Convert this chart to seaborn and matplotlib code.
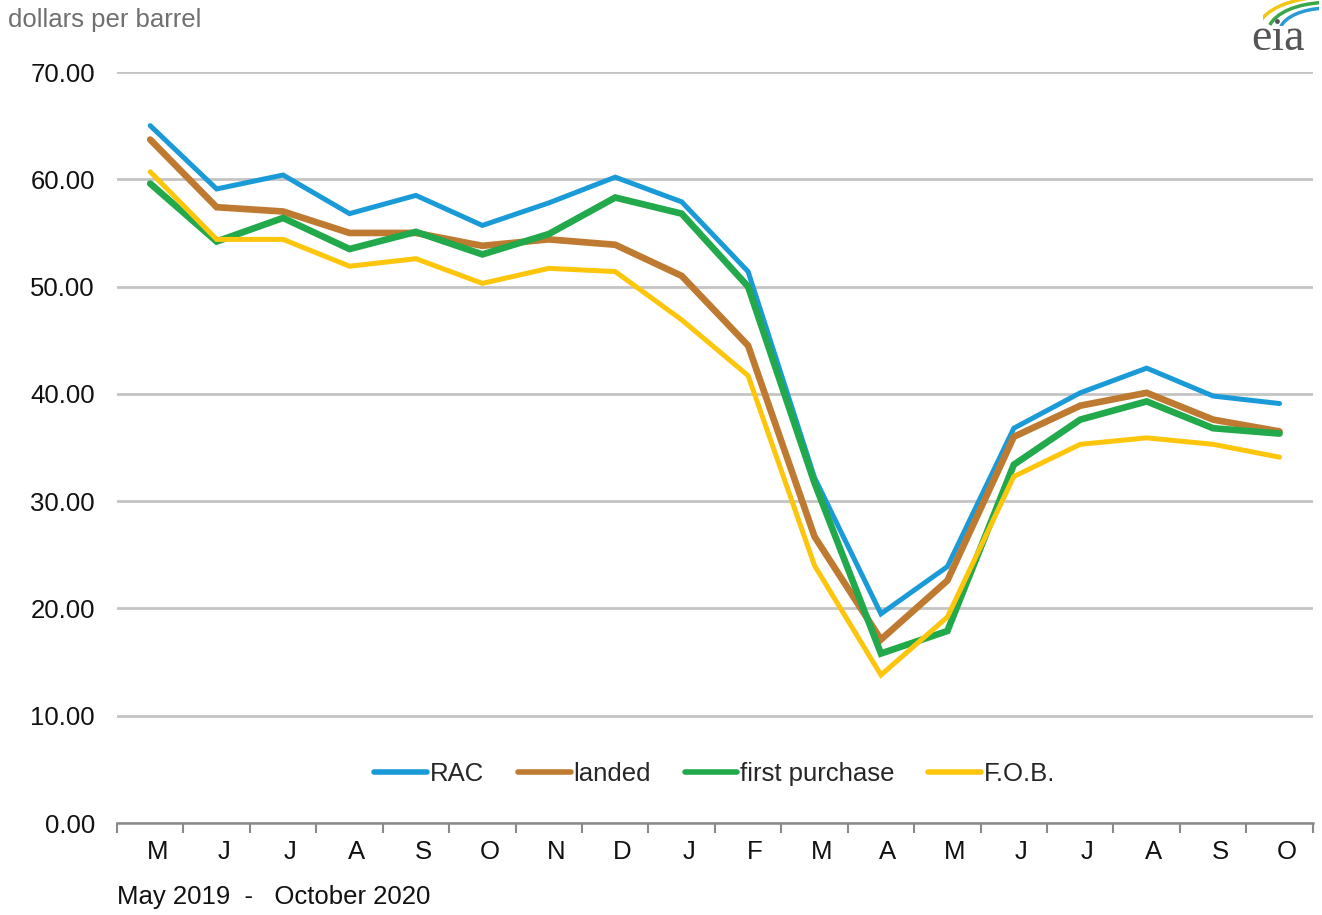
import numpy as np
import pandas as pd
import matplotlib.pyplot as plt
import matplotlib.transforms as mtransforms
from matplotlib.patches import Arc
import seaborn as sns

# monthly crude oil prices, May 2019 - October 2020
months = ['M', 'J', 'J', 'A', 'S', 'O', 'N', 'D', 'J', 'F', 'M', 'A', 'M', 'J', 'J', 'A', 'S', 'O']
rac = [65.0, 59.1, 60.4, 56.8, 58.5, 55.7, 57.8, 60.2, 57.9, 51.4, 32.2, 19.5, 23.9, 36.8, 40.1, 42.4, 39.8, 39.1]
landed = [63.7, 57.4, 57.0, 55.0, 55.0, 53.8, 54.4, 53.9, 51.0, 44.5, 26.7, 17.1, 22.6, 36.0, 38.9, 40.1, 37.6, 36.5]
first_purchase = [59.6, 54.2, 56.4, 53.5, 55.1, 53.0, 54.9, 58.3, 56.8, 50.0, 31.7, 15.8, 17.9, 33.4, 37.6, 39.3, 36.8, 36.3]
fob = [60.7, 54.4, 54.4, 51.9, 52.6, 50.3, 51.7, 51.4, 46.9, 41.7, 24.0, 13.8, 19.2, 32.3, 35.3, 35.9, 35.3, 34.1]

series = {'RAC': rac, 'landed': landed, 'first purchase': first_purchase, 'F.O.B.': fob}
colors = {'RAC': '#1a9bd7', 'landed': '#bf7a31', 'first purchase': '#22a94b', 'F.O.B.': '#fdc60c'}
widths = {'RAC': 3.6, 'landed': 4.8, 'first purchase': 4.8, 'F.O.B.': 3.6}

df = pd.concat([pd.DataFrame({'idx': np.arange(len(months)), 'price': v, 'series': k})
                for k, v in series.items()], ignore_index=True)

sns.set_style('white')
plt.rcParams['font.family'] = ['Liberation Sans', 'DejaVu Sans']

fig = plt.figure(figsize=(13.22, 9.15), dpi=100)
ax = fig.add_axes([0.0885, 0.1005, 0.9045, 0.8208])

sns.lineplot(data=df, x='idx', y='price', hue='series', palette=colors,
             hue_order=list(series.keys()), ax=ax, legend=False)
for line, name in zip(ax.get_lines(), series.keys()):
    line.set_linewidth(widths[name])
    line.set_solid_joinstyle('miter')

ax.set_xlim(-0.5, len(months) - 0.5)
ax.set_ylim(0, 70)
ax.set_yticks(np.arange(0, 71, 10))
ax.set_yticklabels([f'{v:.2f}' for v in np.arange(0, 71, 10)], fontsize=18.5, color='#111111')
ax.yaxis.grid(True, color='#c4c4c4', linewidth=2)
ax.set_axisbelow(True)
ax.tick_params(axis='y', length=0, pad=16)

ax.set_xticks(np.arange(len(months)))
ax.set_xticklabels(months, fontsize=18.5, color='#111111')
ax.set_xticks(np.arange(-0.5, len(months)), minor=True)
ax.tick_params(axis='x', which='major', bottom=True, length=0, pad=12)
ax.tick_params(axis='x', which='minor', bottom=True, length=7, width=1.5, color='#8a8a8a', direction='out')
offset = mtransforms.ScaledTranslation(7 / 100, 0, fig.dpi_scale_trans)
for lbl in ax.get_xticklabels():
    lbl.set_transform(lbl.get_transform() + offset)

for s in ['top', 'right', 'left']:
    ax.spines[s].set_visible(False)
ax.spines['bottom'].set_color('#8a8a8a')
ax.spines['bottom'].set_linewidth(1.8)
ax.set_xlabel('')
ax.set_ylabel('')

handles = [plt.Line2D([], [], color=colors[k], linewidth=4, solid_capstyle='round') for k in series]
ax.legend(handles, list(series.keys()), loc='center', bbox_to_anchor=(0.5, 0.065), ncol=4,
          frameon=False, fontsize=18.5, handlelength=2.05, handletextpad=0.12, columnspacing=1.3)

fig.text(0.006, 0.978, 'dollars per barrel', fontsize=18.5, color='#707070', va='center', ha='left')
fig.text(0.0885, 0.02, 'May 2019  -   October 2020', fontsize=18.5, color='#111111', va='center', ha='left')

# eia logo
fig.text(0.9665, 0.958, 'eia', fontsize=33, color='#555555', family='Liberation Serif',
         ha='center', va='center')
lax = fig.add_axes([0.955, 0.972, 0.043, 0.028])
lax.set_xlim(0, 1)
lax.set_ylim(0, 1)
lax.axis('off')
for c, r in [('#f3c614', 1.25), ('#3aa648', 1.05), ('#2a9ad6', 0.85)]:
    lax.add_patch(Arc((1.15, -0.25), 2 * r, 2.2 * r, theta1=95, theta2=165, color=c, linewidth=2.5))

fig.savefig('out.png', dpi=100)
